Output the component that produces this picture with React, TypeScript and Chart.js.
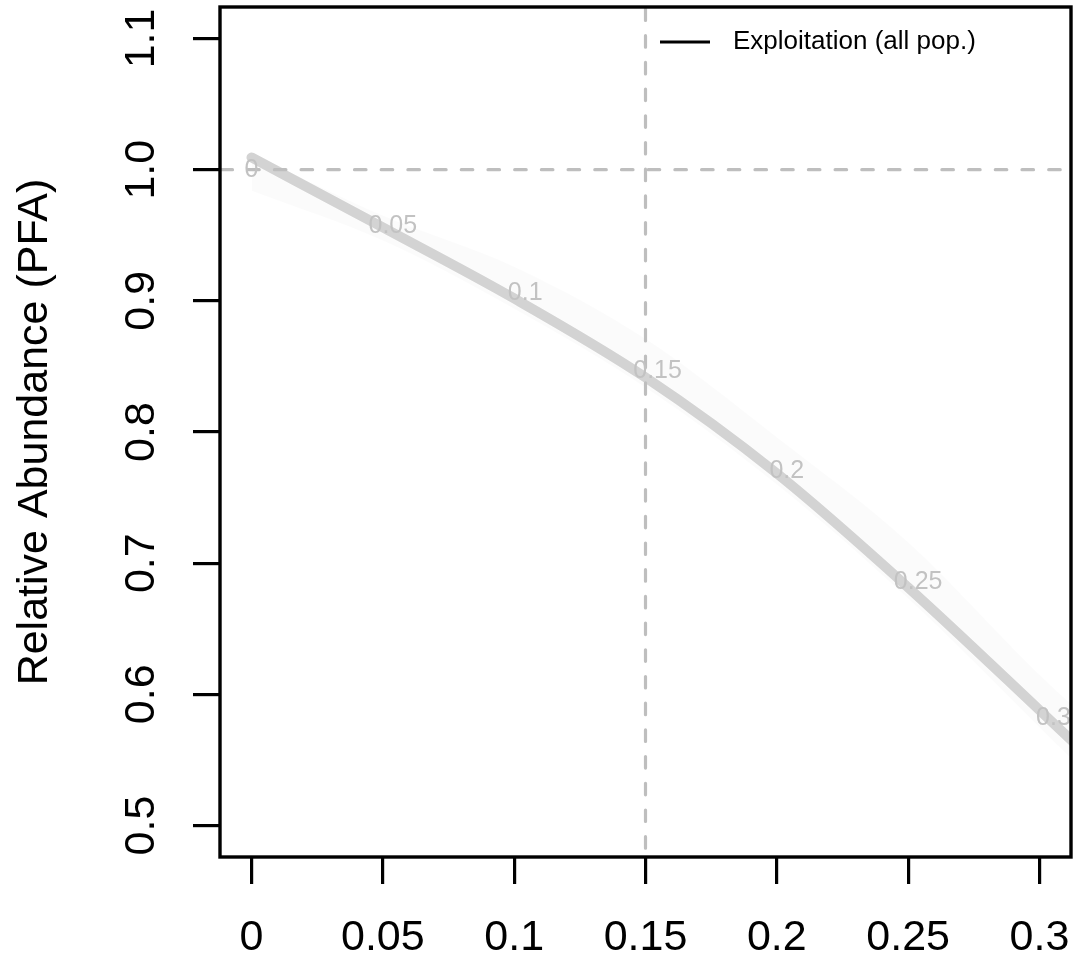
import React, { useEffect, useRef } from "react";
import { Chart, registerables } from "chart.js";

Chart.register(...registerables);

// ---- data ----
const curveX = [0, 0.05, 0.1, 0.15, 0.2, 0.25, 0.3, 0.32];
const curveY = [1.0093, 0.956, 0.9018, 0.8416, 0.7684, 0.6815, 0.588, 0.55];
const bandUpper = [1.012, 0.965, 0.926, 0.871, 0.796, 0.716, 0.615, 0.578];
const bandLower = [0.984, 0.946, 0.894, 0.834, 0.76, 0.673, 0.575, 0.535];

const labelX = [0, 0.0538, 0.1042, 0.1546, 0.2038, 0.2538, 0.3053];
const labelY = [1.0, 0.9567, 0.9056, 0.8461, 0.7699, 0.6853, 0.5816];
const labelText = ["0", "0.05", "0.1", "0.15", "0.2", "0.25", "0.3"];

const xTicks = [0, 0.05, 0.1, 0.15, 0.2, 0.25, 0.3];
const xTickLabels = ["0", "0.05", "0.1", "0.15", "0.2", "0.25", "0.3"];
const yTicks = [0.5, 0.6, 0.7, 0.8, 0.9, 1.0, 1.1];
const yTickLabels = ["0.5", "0.6", "0.7", "0.8", "0.9", "1.0", "1.1"];

const refX = 0.15;
const refY = 1.0;
const yTitle = "Relative Abundance (PFA)";
const legendLabel = "Exploitation (all pop.)";

const FONT = "'Liberation Sans', Arial, Helvetica, sans-serif";

const overlayPlugin = {
  id: "overlay",
  afterDatasetsDraw(chart: any) {
    const { ctx, chartArea, scales } = chart;
    const xs = scales.x;
    const ys = scales.y;
    ctx.save();
    ctx.beginPath();
    ctx.rect(chartArea.left, chartArea.top, chartArea.right - chartArea.left, chartArea.bottom - chartArea.top);
    ctx.clip();
    // dashed reference lines
    ctx.strokeStyle = "#bebebe";
    ctx.lineWidth = 3.2;
    ctx.lineCap = "round";
    ctx.setLineDash([11.5, 15.2]);
    const py = ys.getPixelForValue(refY);
    ctx.beginPath();
    ctx.moveTo(chartArea.left + 1, py);
    ctx.lineTo(chartArea.right, py);
    ctx.stroke();
    const px = xs.getPixelForValue(refX);
    ctx.beginPath();
    ctx.moveTo(px, chartArea.top + 2);
    ctx.lineTo(px, chartArea.bottom);
    ctx.stroke();
    ctx.setLineDash([]);
    // curve labels
    ctx.fillStyle = "#c2c2c2";
    ctx.font = `25px ${FONT}`;
    ctx.textAlign = "center";
    ctx.textBaseline = "middle";
    labelText.forEach((t, i) => {
      ctx.fillText(t, xs.getPixelForValue(labelX[i]), ys.getPixelForValue(labelY[i]));
    });
    ctx.restore();
  },
  afterDraw(chart: any) {
    const { ctx, chartArea } = chart;
    ctx.save();
    // frame
    ctx.strokeStyle = "#000";
    ctx.lineWidth = 3.4;
    ctx.strokeRect(chartArea.left, chartArea.top, chartArea.right - chartArea.left, chartArea.bottom - chartArea.top);
    // legend
    const ly = chartArea.top + 35;
    const lx = chartArea.left + 440;
    ctx.lineWidth = 3;
    ctx.beginPath();
    ctx.moveTo(lx, ly);
    ctx.lineTo(lx + 50, ly);
    ctx.stroke();
    ctx.fillStyle = "#000";
    ctx.font = `26px ${FONT}`;
    ctx.textAlign = "left";
    ctx.textBaseline = "middle";
    ctx.fillText(legendLabel, lx + 73, ly);
    ctx.restore();
  },
};

export default function App() {
  const ref = useRef<HTMLCanvasElement | null>(null);
  useEffect(() => {
    if (!ref.current) return;
    const chart = new Chart(ref.current, {
      type: "line",
      data: {
        datasets: [
          {
            label: legendLabel,
            data: curveX.map((x, i) => ({ x, y: curveY[i] })),
            borderColor: "#d3d3d3",
            borderWidth: 10,
            borderCapStyle: "round",
            pointRadius: 0,
            fill: false,
            cubicInterpolationMode: "monotone",
            clip: 0,
          },
          {
            label: "upper",
            data: curveX.map((x, i) => ({ x, y: bandUpper[i] })),
            borderWidth: 0,
            borderColor: "rgba(0,0,0,0)",
            backgroundColor: "rgba(0,0,0,0.016)",
            pointRadius: 0,
            fill: "+1",
            cubicInterpolationMode: "monotone",
            clip: 0,
          },
          {
            label: "lower",
            data: curveX.map((x, i) => ({ x, y: bandLower[i] })),
            borderWidth: 0,
            borderColor: "rgba(0,0,0,0)",
            pointRadius: 0,
            fill: false,
            cubicInterpolationMode: "monotone",
            clip: 0,
          },
        ],
      } as any,
      options: {
        animation: false,
        responsive: false,
        events: [],
        layout: { autoPadding: false, padding: { left: 0, top: 7, right: 6, bottom: 0 } },
        plugins: { legend: { display: false }, tooltip: { enabled: false } },
        scales: {
          x: {
            type: "linear",
            min: -0.012,
            max: 0.312,
            afterBuildTicks: (s: any) => {
              s.ticks = xTicks.map((v) => ({ value: v }));
            },
            afterFit: (s: any) => {
              s.height = 104;
              s.paddingLeft = 0;
              s.paddingRight = 0;
            },
            ticks: {
              callback: (_v: any, i: number) => xTickLabels[i],
              font: { size: 43, family: FONT },
              color: "#000",
              padding: 28,
              maxRotation: 0,
              minRotation: 0,
              autoSkip: false,
            },
            grid: {
              drawOnChartArea: false,
              drawTicks: true,
              tickLength: 27,
              tickWidth: 3.2,
              lineWidth: 3.2,
              color: "#000",
            },
            border: { display: false },
          },
          y: {
            type: "linear",
            min: 0.476,
            max: 1.124,
            afterBuildTicks: (s: any) => {
              s.ticks = yTicks.map((v) => ({ value: v }));
            },
            afterFit: (s: any) => {
              s.width = 220;
              s.paddingTop = 0;
              s.paddingBottom = 0;
            },
            ticks: {
              callback: (_v: any, i: number) => yTickLabels[i],
              font: { size: 43, family: FONT },
              color: "#000",
              padding: 21,
              minRotation: 90,
              maxRotation: 90,
              crossAlign: "center",
              autoSkip: false,
            },
            grid: {
              drawOnChartArea: false,
              drawTicks: true,
              tickLength: 27,
              tickWidth: 3.2,
              lineWidth: 3.2,
              color: "#000",
            },
            border: { display: false },
            title: {
              display: true,
              text: yTitle,
              font: { size: 43, family: FONT },
              color: "#000",
              padding: { top: 9, bottom: 0 },
            },
          },
        },
      } as any,
      plugins: [overlayPlugin],
    });
    return () => chart.destroy();
  }, []);
  return (
    <div style={{ position: "fixed", left: 0, top: 0, width: 1077, height: 961, background: "#fff" }}>
      <canvas ref={ref} width={1077} height={961} />
    </div>
  );
}
